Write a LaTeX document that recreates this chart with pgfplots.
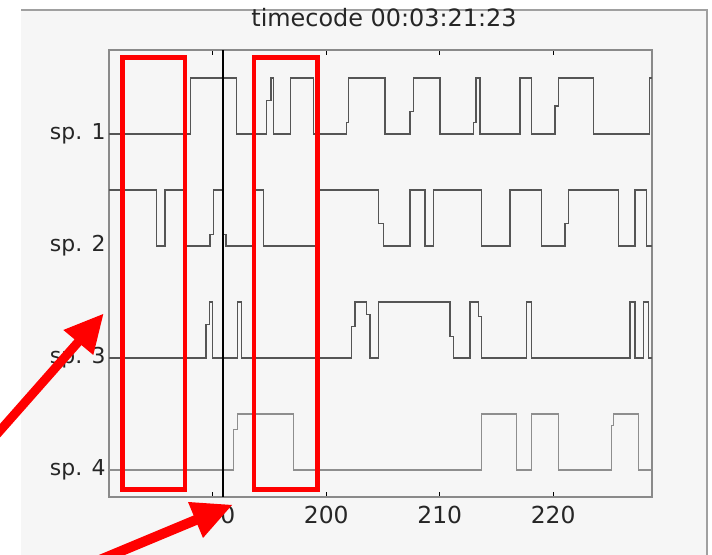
\documentclass[border=0pt]{standalone}
\usepackage{fontspec}
\setmainfont{DejaVu Sans}
\usepackage{pgfplots}
\pgfplotsset{compat=1.18}
\definecolor{bgc}{HTML}{F6F6F6}
\definecolor{trace}{HTML}{555555}
\definecolor{tracefour}{HTML}{8E8E8E}
\definecolor{axc}{HTML}{8A8A8A}
\definecolor{bord}{HTML}{A0A0A0}
\begin{document}
\begin{tikzpicture}[x=1bp,y=1bp]
\path[use as bounding box] (0,0) rectangle (712,555);
\fill[white] (0,0) rectangle (712,555);
\fill[bgc] (21,0) rectangle (707,545);
\draw[bord, line width=1.5bp] (21,545) -- (707,545) -- (707,0);
\begin{axis}[at={(109bp,58bp)}, anchor=south west, scale only axis,
  width=543bp, height=447bp,
  xmin=180.84, xmax=228.72, ymin=-0.241, ymax=3.75,
  axis line style={axc, line width=1.4bp},
  xtick={190,200,210,220}, ytick={0,1,2,3},
  yticklabels={sp. 4, sp. 3, sp. 2, sp. 1},
  tick align=inside, xtick pos=both, ytick pos=left,
  major tick length=5bp,
  xtick style={black, line width=1.2bp},
  ytick style={draw=none},
  /pgf/number format/assume math mode=true,
  yticklabel style={font=\fontsize{22}{26}\selectfont, text=black!85},
  xticklabel style={font=\fontsize{23.5}{28}\selectfont, text=black!85, yshift=-6bp},
  title={timecode 00:03:21:23},
  title style={at={(0.5,1)}, anchor=base, yshift=18bp, xshift=3.5bp, font=\fontsize{24}{28}\selectfont, text=black!85},
  clip=false,
]
% sp. 1
\addplot[trace, line width=1.4bp] coordinates {
(180.84,3)(188.04,3)(188.04,3.5)(192.10,3.5)(192.10,3)
(194.74,3)(194.74,3.3)(195.12,3.3)(195.12,3.5)(195.33,3.5)(195.33,3)
(196.86,3)(196.86,3.5)(198.85,3.5)(198.85,3)
(201.80,3)(201.80,3.1)(201.94,3.1)(201.94,3.5)(205.18,3.5)(205.18,3)
(207.38,3)(207.38,3.2)(207.67,3.2)(207.67,3.5)(210.03,3.5)(210.03,3)
(212.96,3)(212.96,3.1)(213.20,3.1)(213.20,3.5)(213.55,3.5)(213.55,3)
(217.08,3)(217.08,3.5)(218.11,3.5)(218.11,3)
(220.17,3)(220.17,3.25)(220.46,3.25)(220.46,3.5)(223.55,3.5)(223.55,3)
(228.49,3)(228.49,3.5)(228.72,3.5)
};
% sp. 2
\addplot[trace, line width=1.4bp] coordinates {
(180.84,2.5)(185.04,2.5)(185.04,2)(185.78,2)(185.78,2.5)(187.39,2.5)(187.39,2)
(189.74,2)(189.74,2.1)(190.04,2.1)(190.04,2.5)(190.92,2.5)(190.92,2.1)(191.16,2.1)(191.16,2)
(193.54,2)(193.54,2.5)(194.44,2.5)(194.44,2)
(199.27,2)(199.27,2.5)(204.59,2.5)(204.59,2.2)(205.03,2.2)(205.03,2)
(207.38,2)(207.38,2.5)(208.70,2.5)(208.70,2)
(209.44,2)(209.44,2.5)(213.70,2.5)(213.70,2)
(216.20,2)(216.20,2.5)(219.00,2.5)(219.00,2)
(221.05,2)(221.05,2.2)(221.34,2.2)(221.34,2.5)(225.75,2.5)(225.75,2)
(227.22,2)(227.22,2.5)(228.25,2.5)(228.25,2)(228.72,2)
};
% sp. 3
\addplot[trace, line width=1.4bp] coordinates {
(180.84,1)(189.40,1)(189.40,1.3)(189.69,1.3)(189.69,1.5)(189.98,1.5)(189.98,1)
(192.15,1)(192.15,1.5)(192.54,1.5)(192.54,1)
(202.24,1)(202.24,1.28)(202.53,1.28)(202.53,1.5)(203.56,1.5)(203.56,1.39)(203.85,1.39)(203.85,1)
(204.59,1)(204.59,1.5)(210.91,1.5)(210.91,1.19)(211.20,1.19)(211.20,1)
(212.67,1)(212.67,1.5)(213.40,1.5)(213.40,1.37)(213.70,1.37)(213.70,1)
(217.67,1)(217.67,1.5)(218.11,1.5)(218.11,1)
(226.78,1)(226.78,1.5)(227.22,1.5)(227.22,1)
(227.95,1)(227.95,1.5)(228.39,1.5)(228.39,1)(228.72,1)
};
% sp. 4
\addplot[tracefour, line width=1.4bp] coordinates {
(180.84,0)(191.80,0)(191.80,0.36)(192.19,0.36)(192.19,0.5)(197.09,0.5)(197.09,0)
(213.70,0)(213.70,0.5)(216.79,0.5)(216.79,0)
(218.11,0)(218.11,0.5)(220.46,0.5)(220.46,0)
(225.17,0)(225.17,0.4)(225.31,0.4)(225.31,0.5)(227.51,0.5)(227.51,0)(228.72,0)
};
% cursor
\addplot[black, line width=1.5bp] coordinates {(190.9,-0.241)(190.9,3.75)};
\end{axis}
\begin{scope}[yshift=555bp, yscale=-1]
\draw[red, line width=4.5bp] (122.3,57.3) rectangle (184.9,489.5);
\draw[red, line width=4.5bp] (254,57.3) rectangle (317.7,489.5);
\draw[red, line width=9bp] (80,340) -- (-10,442);
\fill[red] (103.3,314) -- (63.3,330) -- (93.3,355) -- cycle;
\draw[red, line width=10bp] (197,519.5) -- (95,562);
\fill[red] (232,505) -- (188,502) -- (203,538) -- cycle;
\end{scope}
\end{tikzpicture}
\end{document}
